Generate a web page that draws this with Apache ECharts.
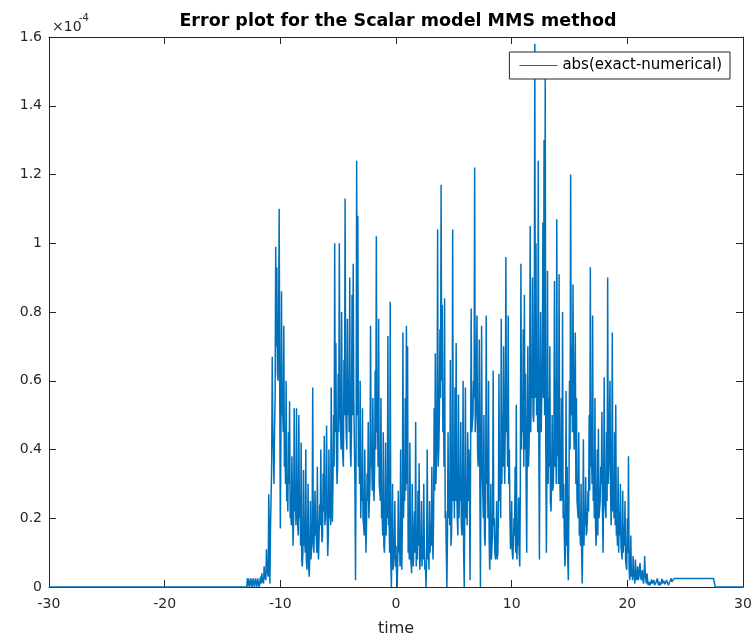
<!DOCTYPE html>
<html>
<head>
<meta charset="utf-8">
<script src="https://cdn.jsdelivr.net/npm/echarts@6/dist/echarts.min.js"></script>
<style>
  html, body { margin: 0; padding: 0; background: #ffffff; }
  #chart { width: 756px; height: 636px; }
</style>
</head>
<body>
<div id="chart"></div>
<script>
// Axis ranges and tick steps
const xRange = [-30, 30];
const xStep = 10;
const yRange = [0, 1.6];   // in units of 1e-4
const yStep = 0.2;

// Sampled error |exact - numerical| (units of 1e-4).
// Crests sit on a 0.1 time grid starting at tStart; troughs sit half a step later.
const tStart = -12.9;
const tStep = 0.1;
const crestValues = [
  // -12.9 .. -12.0
  0.0, 0.002, 0.027, 0.003, 0.026, 0.002, 0.027, 0.004, 0.026, 0.003,
  // -11.9 .. -11.0
  0.028, 0.006, 0.03, 0.04, 0.02, 0.06, 0.03, 0.11, 0.05, 0.27,
  // -10.9 .. -10.0
  0.01, 0.26, 0.67, 0.40, 0.46, 0.99, 0.93, 0.60, 1.10, 0.17,
  // -9.9 .. -9.0
  0.86, 0.52, 0.76, 0.40, 0.60, 0.28, 0.45, 0.54, 0.22, 0.38,
  // -8.9 .. -8.0
  0.12, 0.52, 0.30, 0.52, 0.18, 0.50, 0.26, 0.42, 0.06, 0.34,
  // -7.9 .. -7.0
  0.15, 0.40, 0.05, 0.30, 0.03, 0.25, 0.12, 0.58, 0.10, 0.28,
  // -6.9 .. -6.0
  0.16, 0.35, 0.08, 0.24, 0.40, 0.13, 0.33, 0.44, 0.20, 0.47,
  // -5.9 .. -5.0
  0.09, 0.40, 0.25, 0.58, 0.19, 0.50, 1.00, 0.71, 0.30, 0.62,
  // -4.9 .. -4.0
  1.00, 0.48, 0.80, 0.38, 0.66, 1.13, 0.44, 0.78, 0.60, 0.90,
  // -3.9 .. -3.0
  0.35, 0.85, 0.94, 0.55, 0.02, 1.24, 1.08, 0.45, 0.60, 0.30,
  // -2.9 .. -2.0
  0.52, 0.18, 0.40, 0.10, 0.33, 0.48, 0.20, 0.76, 0.38, 0.55,
  // -1.9 .. -1.0
  0.25, 0.63, 1.02, 0.50, 0.78, 0.30, 0.55, 0.22, 0.45, 0.10,
  // -0.9 .. 0.0
  0.42, 0.28, 0.73, 0.20, 0.83, 0.00, 0.30, 0.08, 0.25, 0.12,
  // 0.1 .. 1.0
  0.00, 0.28, 0.15, 0.40, 0.05, 0.74, 0.30, 0.55, 0.76, 0.70,
  // 1.1 .. 2.0
  0.18, 0.42, 0.10, 0.30, 0.06, 0.22, 0.48, 0.12, 0.28, 0.36,
  // 2.1 .. 3.0
  0.08, 0.25, 0.15, 0.30, 0.05, 0.00, 0.40, 0.14, 0.25, 0.18,
  // 3.1 .. 4.0
  0.35, 0.08, 0.52, 0.68, 0.30, 1.04, 0.40, 0.75, 1.17, 0.82,
  // 4.1 .. 5.0
  0.55, 0.84, 0.22, 0.00, 0.45, 0.30, 0.66, 0.15, 1.04, 0.35,
  // 5.1 .. 6.0
  0.58, 0.71, 0.20, 0.56, 0.32, 0.48, 0.15, 0.60, 0.00, 0.58,
  // 6.1 .. 7.0
  0.30, 0.45, 0.40, 0.02, 0.81, 0.45, 0.60, 1.22, 0.50, 0.79,
  // 7.1 .. 8.0
  0.35, 0.72, 0.00, 0.76, 0.28, 0.50, 0.12, 0.79, 0.40, 0.60,
  // 8.1 .. 9.0
  0.05, 0.30, 0.12, 0.63, 0.20, 0.08, 0.25, 0.10, 0.62, 0.35,
  // 9.1 .. 10.0
  0.78, 0.50, 0.70, 0.30, 0.96, 0.55, 0.79, 0.40, 0.11, 0.25,
  // 10.1 .. 11.0
  0.08, 0.20, 0.35, 0.53, 0.15, 0.26, 0.06, 0.94, 0.55, 0.75,
  // 11.1 .. 12.0
  0.85, 0.62, 0.10, 0.70, 0.40, 1.05, 0.60, 0.90, 0.48, 1.58,
  // 12.1 .. 13.0
  1.00, 0.65, 1.24, 0.08, 0.80, 0.55, 1.06, 1.30, 1.48, 0.10,
  // 13.1 .. 14.0
  0.92, 0.55, 0.70, 0.22, 0.50, 0.30, 0.89, 0.60, 1.07, 0.45,
  // 14.1 .. 15.0
  0.91, 0.25, 0.55, 0.80, 0.30, 0.06, 0.57, 0.35, 0.02, 0.60,
  // 15.1 .. 16.0
  1.20, 0.70, 0.88, 0.40, 0.74, 0.55, 0.25, 0.45, 0.18, 0.30,
  // 16.1 .. 17.0
  0.01, 0.43, 0.20, 0.32, 0.16, 0.28, 0.50, 0.93, 0.40, 0.79,
  // 17.1 .. 18.0
  0.30, 0.55, 0.12, 0.40, 0.46, 0.20, 0.35, 0.51, 0.10, 0.61,
  // 18.1 .. 19.0
  0.25, 0.45, 0.90, 0.35, 0.60, 0.18, 0.74, 0.30, 0.45, 0.53,
  // 19.1 .. 20.0
  0.17, 0.35, 0.22, 0.30, 0.12, 0.28, 0.18, 0.25, 0.06, 0.20,
  // 20.1 .. 21.0
  0.38, 0.02, 0.15, 0.05, 0.09, 0.03, 0.08, 0.02, 0.06, 0.03,
  // 21.1 .. 22.0
  0.07, 0.02, 0.05, 0.01, 0.09, 0.02, 0.04, 0.005, 0.02, 0.0,
  // 22.1 .. 23.0
  0.022, 0.008, 0.02, 0.0, 0.015, 0.025, 0.005, 0.02, 0.0, 0.024,
  // 23.1 .. 24.0
  0.01, 0.022, 0.003, 0.02, 0.025, 0.0, 0.018, 0.025, 0.01, 0.02,
  // 24.1 .. 25.0
  0.025, 0.025, 0.025, 0.025, 0.025, 0.025, 0.025, 0.025, 0.025, 0.025,
  // 25.1 .. 26.0
  0.025, 0.025, 0.025, 0.025, 0.025, 0.025, 0.025, 0.025, 0.025, 0.025,
  // 26.1 .. 27.0
  0.025, 0.025, 0.025, 0.025, 0.025, 0.025, 0.025, 0.025, 0.025, 0.025,
  // 27.1 .. 27.6
  0.025, 0.025, 0.025, 0.025, 0.025, 0.0
];
const troughValues = [
  // -12.85 .. -11.95
  0.025, 0.025, 0.0, 0.025, 0.0, 0.025, 0.0, 0.025, 0.0, 0.025,
  // -11.85 .. -10.95
  0.0, 0.02, 0.01, 0.02, 0.01, 0.03, 0.02, 0.05, 0.03, 0.15,
  // -10.85 .. -9.95
  0.18, 0.35, 0.45, 0.30, 0.55, 0.70, 0.62, 0.75, 0.55, 0.45,
  // -9.85 .. -8.95
  0.50, 0.45, 0.35, 0.30, 0.25, 0.22, 0.30, 0.20, 0.18, 0.25,
  // -8.85 .. -7.95
  0.20, 0.22, 0.18, 0.25, 0.15, 0.20, 0.12, 0.08, 0.10, 0.12,
  // -7.85 .. -6.95
  0.10, 0.08, 0.12, 0.06, 0.10, 0.08, 0.15, 0.12, 0.10, 0.15,
  // -6.85 .. -5.95
  0.10, 0.12, 0.15, 0.18, 0.20, 0.15, 0.22, 0.18, 0.25, 0.20,
  // -5.85 .. -4.95
  0.15, 0.20, 0.18, 0.25, 0.30, 0.35, 0.45, 0.40, 0.35, 0.45,
  // -4.85 .. -3.95
  0.50, 0.40, 0.45, 0.35, 0.50, 0.55, 0.40, 0.50, 0.45, 0.40,
  // -3.85 .. -2.95
  0.45, 0.50, 0.55, 0.30, 0.40, 0.50, 0.35, 0.30, 0.20, 0.25,
  // -2.85 .. -1.95
  0.20, 0.15, 0.22, 0.18, 0.25, 0.20, 0.30, 0.35, 0.28, 0.30,
  // -1.85 .. -0.95
  0.35, 0.40, 0.45, 0.35, 0.30, 0.25, 0.20, 0.15, 0.12, 0.18,
  // -0.85 .. 0.05
  0.15, 0.20, 0.18, 0.10, 0.08, 0.12, 0.05, 0.10, 0.06, 0.04,
  // 0.15 .. 1.05
  0.08, 0.10, 0.06, 0.12, 0.18, 0.20, 0.25, 0.28, 0.30, 0.10,
  // 1.15 .. 2.05
  0.08, 0.10, 0.04, 0.12, 0.15, 0.10, 0.06, 0.08, 0.12, 0.05,
  // 2.15 .. 3.05
  0.10, 0.06, 0.08, 0.12, 0.06, 0.10, 0.08, 0.05, 0.10, 0.12,
  // 3.15 .. 4.05
  0.15, 0.20, 0.28, 0.30, 0.45, 0.35, 0.50, 0.55, 0.60, 0.45,
  // 4.15 .. 5.05
  0.35, 0.20, 0.10, 0.15, 0.20, 0.18, 0.12, 0.30, 0.25, 0.20,
  // 5.15 .. 6.05
  0.25, 0.30, 0.15, 0.20, 0.25, 0.18, 0.22, 0.10, 0.25, 0.20,
  // 6.15 .. 7.05
  0.18, 0.25, 0.30, 0.40, 0.45, 0.50, 0.55, 0.45, 0.50, 0.40,
  // 7.15 .. 8.05
  0.45, 0.30, 0.40, 0.35, 0.20, 0.15, 0.25, 0.30, 0.20, 0.15,
  // 8.15 .. 9.05
  0.12, 0.08, 0.15, 0.18, 0.10, 0.12, 0.08, 0.20, 0.25, 0.20,
  // 9.15 .. 10.05
  0.30, 0.35, 0.40, 0.50, 0.45, 0.35, 0.30, 0.20, 0.15, 0.10,
  // 10.15 .. 11.05
  0.12, 0.15, 0.10, 0.08, 0.12, 0.10, 0.30, 0.40, 0.45, 0.35,
  // 11.15 .. 12.05
  0.40, 0.30, 0.45, 0.35, 0.50, 0.45, 0.55, 0.50, 0.60, 0.55,
  // 12.15 .. 13.05
  0.50, 0.45, 0.40, 0.55, 0.45, 0.60, 0.55, 0.50, 0.40, 0.35,
  // 13.15 .. 14.05
  0.30, 0.35, 0.25, 0.30, 0.28, 0.40, 0.35, 0.30, 0.38, 0.30,
  // 14.15 .. 15.05
  0.35, 0.30, 0.25, 0.20, 0.15, 0.10, 0.12, 0.08, 0.25, 0.40,
  // 15.15 .. 16.05
  0.50, 0.45, 0.55, 0.40, 0.30, 0.25, 0.20, 0.15, 0.12, 0.10,
  // 16.15 .. 17.05
  0.15, 0.12, 0.18, 0.15, 0.20, 0.22, 0.28, 0.35, 0.30, 0.25,
  // 17.15 .. 18.05
  0.20, 0.18, 0.22, 0.15, 0.20, 0.25, 0.30, 0.22, 0.28, 0.25,
  // 18.15 .. 19.05
  0.20, 0.25, 0.30, 0.35, 0.28, 0.30, 0.22, 0.20, 0.18, 0.15,
  // 19.15 .. 20.05
  0.12, 0.10, 0.15, 0.12, 0.08, 0.10, 0.12, 0.08, 0.05, 0.10,
  // 20.15 .. 21.05
  0.06, 0.05, 0.03, 0.02, 0.04, 0.01, 0.03, 0.04, 0.02, 0.05,
  // 21.15 .. 22.05
  0.03, 0.04, 0.02, 0.03, 0.04, 0.01, 0.02, 0.015, 0.005, 0.015,
  // 22.15 .. 23.05
  0.01, 0.015, 0.005, 0.01, 0.02, 0.012, 0.015, 0.005, 0.015, 0.01,
  // 23.15 .. 24.05
  0.018, 0.008, 0.012, 0.015, 0.005, 0.01, 0.02, 0.015, 0.02, 0.025,
  // 24.15 .. 25.05
  0.025, 0.025, 0.025, 0.025, 0.025, 0.025, 0.025, 0.025, 0.025, 0.025,
  // 25.15 .. 26.05
  0.025, 0.025, 0.025, 0.025, 0.025, 0.025, 0.025, 0.025, 0.025, 0.025,
  // 26.15 .. 27.05
  0.025, 0.025, 0.025, 0.025, 0.025, 0.025, 0.025, 0.025, 0.025, 0.025,
  // 27.15 .. 27.65
  0.025, 0.025, 0.025, 0.025, 0.025, 0.0
];

// Error is zero outside the sampled window
const leadIn = [[-30, 0]];
const leadOut = [[30, 0]];

const seriesName = 'abs(exact-numerical)';
const titleText = 'Error plot for the Scalar model MMS method';
const xLabel = 'time';

// Interleave crests and troughs into one time-ordered trace
const trace = [];
crestValues.forEach((v, i) => {
  const t = tStart + i * tStep;
  trace.push([Math.round(t * 100) / 100, v]);
  if (i < troughValues.length) {
    trace.push([Math.round((t + tStep / 2) * 100) / 100, troughValues[i]]);
  }
});
const points = leadIn.concat(trace, leadOut);

const ink = '#262626';
const font = 'DejaVu Sans';
const fmt = v => String(+v.toFixed(1));

const chart = echarts.init(document.getElementById('chart'), null, { renderer: 'canvas' });

const axisCommon = {
  axisLine: { show: true, onZero: false, lineStyle: { color: ink, width: 1 } },
  axisTick: { show: true, inside: true, length: 7, lineStyle: { color: ink, width: 1 } },
  splitLine: { show: false }
};

chart.setOption({
  animation: false,
  backgroundColor: '#ffffff',
  title: {
    text: titleText,
    left: 393,
    top: 7,
    textAlign: 'center',
    textStyle: { fontFamily: font, fontWeight: 'bold', fontSize: 17.5, color: '#000' }
  },
  grid: { left: 49, right: 13, top: 37, bottom: 49, outerBoundsMode: 'none' },
  legend: {
    data: [seriesName],
    icon: 'rect',
    right: 26,
    top: 52,
    itemWidth: 38,
    itemHeight: 1,
    itemGap: 9,
    padding: [6, 8, 6, 10],
    backgroundColor: '#ffffff',
    borderColor: ink,
    borderWidth: 1,
    textStyle: { fontFamily: font, fontSize: 15, color: '#000' }
  },
  xAxis: [
    Object.assign({
      type: 'value', min: xRange[0], max: xRange[1], interval: xStep, position: 'bottom',
      axisLabel: { show: true, margin: 10, fontFamily: font, fontSize: 14, color: ink, formatter: v => String(v) },
      name: xLabel, nameLocation: 'middle', nameGap: 34,
      nameTextStyle: { fontFamily: font, fontSize: 16, color: ink }
    }, axisCommon),
    Object.assign({
      type: 'value', min: xRange[0], max: xRange[1], interval: xStep, position: 'top',
      axisLabel: { show: false }
    }, axisCommon)
  ],
  yAxis: [
    Object.assign({
      type: 'value', min: yRange[0], max: yRange[1], interval: yStep, position: 'left',
      axisLabel: { show: true, margin: 7, fontFamily: font, fontSize: 14, color: ink, formatter: fmt }
    }, axisCommon),
    Object.assign({
      type: 'value', min: yRange[0], max: yRange[1], interval: yStep, position: 'right',
      axisLabel: { show: false }
    }, axisCommon)
  ],
  graphic: [
    {
      type: 'text', left: 52, top: 20,
      style: { text: '×10', fontFamily: font, fontSize: 14, fill: ink }
    },
    {
      type: 'text', left: 79, top: 13,
      style: { text: '-4', fontFamily: font, fontSize: 10, fill: ink }
    }
  ],
  series: [{
    name: seriesName,
    type: 'line',
    xAxisIndex: 0,
    yAxisIndex: 0,
    data: points,
    symbol: 'none',
    showSymbol: false,
    lineStyle: { color: '#0072BD', width: 1.5 },
    itemStyle: { color: '#0072BD' },
    z: 2
  }]
});
</script>
</body>
</html>
